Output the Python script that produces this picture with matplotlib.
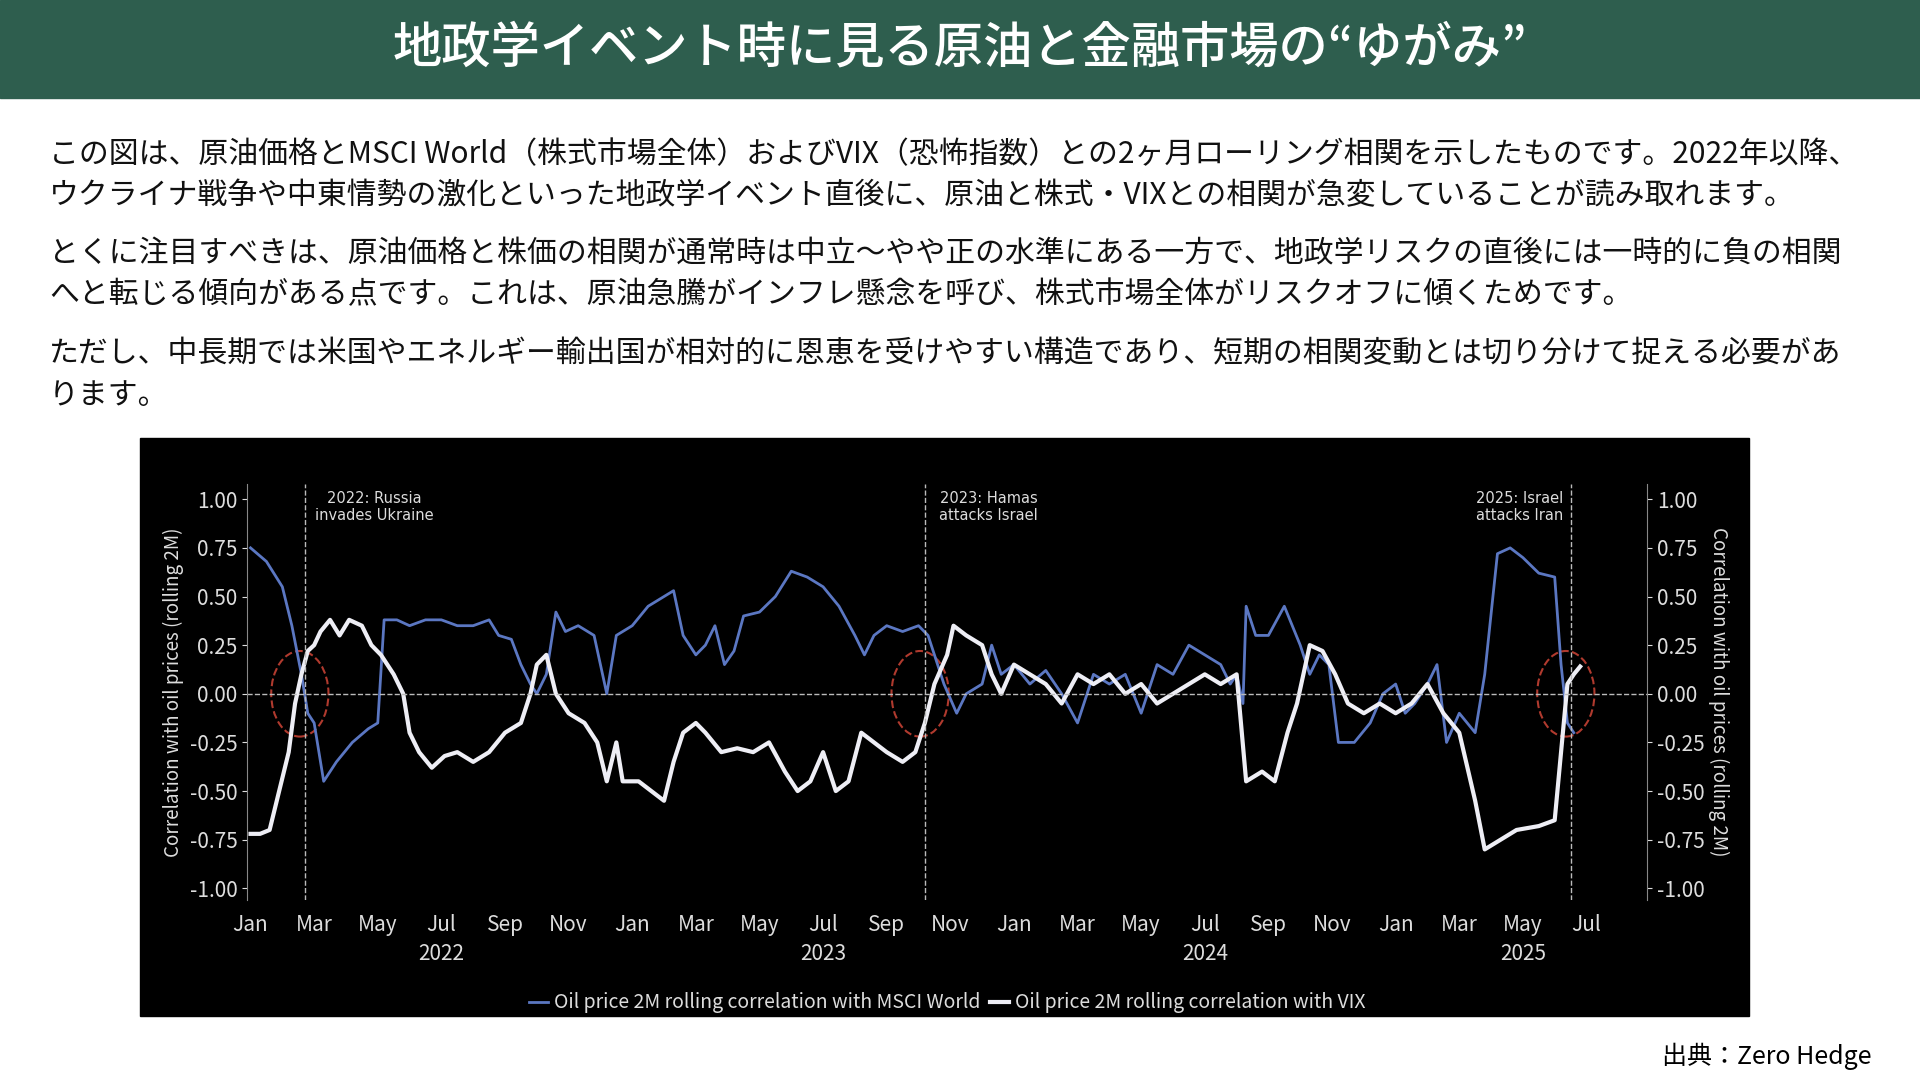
import matplotlib.pyplot as plt
from matplotlib.patches import Ellipse, Rectangle
import numpy as np

plt.rcParams['font.family'] = ['Noto Sans CJK JP', 'DejaVu Sans']

# months since Jan 2022
msci_x = [0, 0.5, 1.0, 1.3, 1.6, 1.8, 2.0, 2.3, 2.7, 3.2, 3.7, 4.0, 4.2, 4.6, 5.0, 5.5, 6.0, 6.5, 7.0, 7.5, 7.8,
          8.2, 8.5, 8.8, 9.0, 9.3, 9.6, 9.9, 10.3, 10.8, 11.2, 11.5, 12, 12.5, 13, 13.3, 13.6, 14, 14.3, 14.6,
          14.9, 15.2, 15.5, 16, 16.5, 17, 17.5, 18, 18.5, 19, 19.3, 19.6, 20, 20.5, 21, 21.3, 21.5, 21.8, 22.2,
          22.5, 23, 23.3, 23.6, 24, 24.5, 25, 25.5, 26, 26.5, 27, 27.5, 28, 28.5, 29, 29.5, 30, 30.5, 30.8, 31.0,
          31.2, 31.3, 31.6, 32, 32.5, 33, 33.3, 33.6, 33.9, 34.2, 34.7, 35.2, 35.6, 36, 36.3, 36.6, 37, 37.3,
          37.6, 38, 38.5, 38.8, 39.2, 39.6, 40, 40.5, 41, 41.2, 41.4, 41.6]
msci_y = [0.75, 0.68, 0.55, 0.35, 0.1, -0.1, -0.15, -0.45, -0.35, -0.25, -0.18, -0.15, 0.38, 0.38, 0.35, 0.38,
          0.38, 0.35, 0.35, 0.38, 0.30, 0.28, 0.15, 0.05, 0.0, 0.1, 0.42, 0.32, 0.35, 0.30, 0.0, 0.3, 0.35, 0.45,
          0.5, 0.53, 0.30, 0.2, 0.25, 0.35, 0.15, 0.22, 0.4, 0.42, 0.5, 0.63, 0.6, 0.55, 0.45, 0.3, 0.2, 0.3, 0.35,
          0.32, 0.35, 0.3, 0.2, 0.05, -0.1, 0.0, 0.05, 0.25, 0.1, 0.15, 0.05, 0.12, 0.0, -0.15, 0.1, 0.05, 0.1,
          -0.1, 0.15, 0.1, 0.25, 0.2, 0.15, 0.05, 0.1, -0.05, 0.45, 0.3, 0.3, 0.45, 0.25, 0.1, 0.2, 0.15, -0.25,
          -0.25, -0.15, 0.0, 0.05, -0.1, -0.05, 0.05, 0.15, -0.25, -0.1, -0.2, 0.1, 0.72, 0.75, 0.7, 0.62, 0.6,
          0.15, -0.15, -0.2]

vix_x = [0, 0.3, 0.6, 0.9, 1.2, 1.4, 1.6, 1.8, 2.0, 2.2, 2.5, 2.8, 3.1, 3.5, 3.8, 4.1, 4.5, 4.8, 5.0, 5.3, 5.7,
         6.1, 6.5, 7.0, 7.5, 8.0, 8.5, 8.8, 9.0, 9.3, 9.6, 10.0, 10.5, 10.9, 11.2, 11.5, 11.7, 12.2, 12.6, 13.0,
         13.3, 13.6, 14.0, 14.3, 14.8, 15.3, 15.8, 16.3, 16.8, 17.2, 17.6, 18.0, 18.4, 18.8, 19.2, 19.6, 20.0,
         20.5, 20.9, 21.2, 21.5, 21.9, 22.1, 22.5, 23, 23.3, 23.6, 24, 24.5, 25, 25.5, 26, 26.5, 27, 27.5, 28,
         28.5, 29, 29.5, 30, 30.5, 31.0, 31.3, 31.8, 32.2, 32.6, 32.9, 33.3, 33.7, 34.1, 34.5, 35, 35.5, 36,
         36.5, 37, 37.5, 38, 38.5, 38.8, 39.3, 39.8, 40.5, 41.0, 41.2, 41.4, 41.6, 41.8]
vix_y = [-0.72, -0.72, -0.7, -0.5, -0.3, -0.05, 0.1, 0.22, 0.25, 0.32, 0.38, 0.30, 0.38, 0.35, 0.25, 0.2, 0.1,
         0.0, -0.2, -0.3, -0.38, -0.32, -0.3, -0.35, -0.3, -0.2, -0.15, 0.0, 0.15, 0.2, 0.0, -0.1, -0.15, -0.25,
         -0.45, -0.25, -0.45, -0.45, -0.5, -0.55, -0.35, -0.2, -0.15, -0.2, -0.3, -0.28, -0.3, -0.25, -0.4, -0.5,
         -0.45, -0.3, -0.5, -0.45, -0.2, -0.25, -0.3, -0.35, -0.3, -0.15, 0.05, 0.2, 0.35, 0.3, 0.25, 0.1, 0.0,
         0.15, 0.1, 0.05, -0.05, 0.1, 0.05, 0.1, 0.0, 0.05, -0.05, 0.0, 0.05, 0.1, 0.05, 0.1, -0.45, -0.4, -0.45,
         -0.2, -0.05, 0.25, 0.22, 0.1, -0.05, -0.1, -0.05, -0.1, -0.05, 0.05, -0.1, -0.2, -0.55, -0.8, -0.75,
         -0.7, -0.68, -0.65, -0.3, 0.05, 0.1, 0.14]

events_x = [1.7, 21.2, 41.5]
events_tx = [3.9, 23.2, 39.9]
events_txt = ['2022: Russia\ninvades Ukraine', '2023: Hamas\nattacks Israel', '2025: Israel\nattacks Iran']
month_ticks = np.arange(0, 43, 2)
month_names = ['Jan', 'Mar', 'May', 'Jul', 'Sep', 'Nov'] * 4
years = ['2022', '2023', '2024', '2025']
years_x = [6, 18, 30, 40]

body = [
    'この図は、原油価格とMSCI World（株式市場全体）およびVIX（恐怖指数）との2ヶ月ローリング相関を示したものです。2022年以降、',
    'ウクライナ戦争や中東情勢の激化といった地政学イベント直後に、原油と株式・VIXとの相関が急変していることが読み取れます。',
    'とくに注目すべきは、原油価格と株価の相関が通常時は中立〜やや正の水準にある一方で、地政学リスクの直後には一時的に負の相関',
    'へと転じる傾向がある点です。これは、原油急騰がインフレ懸念を呼び、株式市場全体がリスクオフに傾くためです。',
    'ただし、中長期では米国やエネルギー輸出国が相対的に恩恵を受けやすい構造であり、短期の相関変動とは切り分けて捉える必要があ',
    'ります。',
]
body_y = [126, 160, 207, 241, 289, 323]

fig = plt.figure(figsize=(19.2, 10.8), dpi=100)
H = 882.0
fig.patches.append(Rectangle((0, 1 - 80 / H), 1, 80 / H, transform=fig.transFigure, color='#2e5e4e', zorder=-5))
fig.text(0.5, 1 - 40 / H, '地政学イベント時に見る原油と金融市場の“ゆがみ”', color='white',
         fontsize=35.5, fontweight='medium', ha='center', va='center')
for t, y in zip(body, body_y):
    fig.text(40 / 1568, 1 - y / H, t, fontsize=21.5, ha='left', va='center', color='#111111')
fig.patches.append(Rectangle((114 / 1568, 1 - 830 / H), (1428 - 114) / 1568, (830 - 358) / H,
                             transform=fig.transFigure, color='black', zorder=-5))
fig.text(1528 / 1568, 1 - 863 / H, '出典：Zero Hedge', fontsize=18, ha='right', va='center')

ax = fig.add_axes([202 / 1568, 1 - 735 / H, (1345 - 202) / 1568, (735 - 395) / H])
ax.set_facecolor('black')
ax.plot(msci_x, msci_y, color='#5b77c2', lw=2, label='Oil price 2M rolling correlation with MSCI World')
ax.plot(vix_x, vix_y, color='#eeeef5', lw=3, label='Oil price 2M rolling correlation with VIX')
ax.axhline(0, color='#bbbbbb', ls='--', lw=1)
for ex in events_x:
    ax.axvline(ex, color='#bbbbbb', ls='--', lw=1)
    ax.add_patch(Ellipse((ex - 0.15, 0.0), 1.8, 0.44, fill=False, ec='#b03a2e', ls='--', lw=1.5))
for tx, et in zip(events_tx, events_txt):
    ax.text(tx, 0.96, et, color='#dddddd', fontsize=10.5, ha='center', va='center', family='DejaVu Sans')
ax.set_xlim(-0.1, 43.9)
ax.set_ylim(-1.06, 1.08)
yt = np.arange(-1, 1.01, 0.25)
ax.set_yticks(yt)
ax.set_yticklabels(['%.2f' % v for v in yt])
ax.set_xticks(month_ticks)
ax.set_xticklabels(month_names[:len(month_ticks)])
ax2 = ax.twinx()
ax2.set_ylim(ax.get_ylim())
ax2.set_yticks(yt)
ax2.set_yticklabels(['%.2f' % v for v in yt])
for a in (ax, ax2):
    for s in a.spines.values():
        s.set_visible(False)
    a.tick_params(colors='#dddddd', labelsize=15)
ax.spines['left'].set_visible(True)
ax.spines['left'].set_color('#888888')
ax2.spines['right'].set_visible(True)
ax2.spines['right'].set_color('#888888')
ax.tick_params(axis='x', length=0, pad=10)
ax.set_ylabel('Correlation with oil prices (rolling 2M)', color='#dddddd', fontsize=13.5)
ax2.set_ylabel('Correlation with oil prices (rolling 2M)', color='#dddddd', fontsize=13.5, rotation=270, labelpad=18)
for yx, yl in zip(years_x, years):
    ax.text(yx, -1.34, yl, color='#dddddd', fontsize=15, ha='center', va='center')
ax.legend(loc='upper center', bbox_to_anchor=(0.5, -0.18), ncol=2, frameon=False, fontsize=14,
          labelcolor='#dddddd', handlelength=1, handletextpad=0.3, columnspacing=0.5)
fig.savefig('out.png', facecolor='white')
